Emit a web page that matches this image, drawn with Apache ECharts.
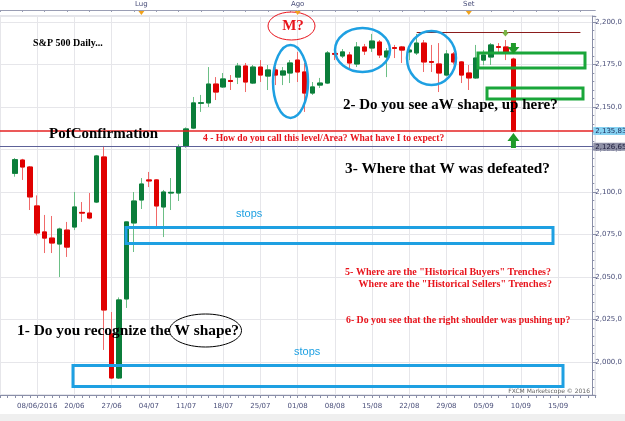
<!DOCTYPE html>
<html><head><meta charset="utf-8">
<script src="https://cdn.jsdelivr.net/npm/echarts@6/dist/echarts.min.js"></script>
<style>html,body{margin:0;padding:0;background:#fff}#c{width:625px;height:421px}</style>
</head><body><div id="c"></div>
<script>
const categories = [
'06/06','07/06','08/06','09/06','10/06',
'13/06','14/06','15/06','16/06','17/06',
'20/06','21/06','22/06','23/06','24/06',
'27/06','28/06','29/06','30/06','01/07',
'04/07','05/07','06/07','07/07','08/07',
'11/07','12/07','13/07','14/07','15/07',
'18/07','19/07','20/07','21/07','22/07',
'25/07','26/07','27/07','28/07','29/07',
'01/08','02/08','03/08','04/08','05/08',
'08/08','09/08','10/08','11/08','12/08',
'15/08','16/08','17/08','18/08','19/08',
'22/08','23/08','24/08','25/08','26/08',
'29/08','30/08','31/08','01/09','02/09',
'05/09','06/09','07/09','08/09','09/09',
'12/09','13/09','14/09','15/09','16/09',
'19/09','20/09','21/09','22/09','23/09',
'26/09'];
const firstDate = '08/06';
const opens  = [2111,2118.8,2114.7, 2091.8,2076.5,2072.9,2069.4,2077.6, 2079.4,2088.0,2087.6,2094.1,2120.6, 2016.5,1990.6,2037.1,2081.8,2095.3, 2107.1,2107.1,2091.2,2099.4,2099.4, 2127.1,2137.6,2152.2,2152.4,2163.5, 2161.8,2165.6,2167.6,2174.1,2164.1, 2173.5,2168.2,2171.8,2168.8,2170.0, 2177.6,2170.6,2158.2,2162.9,2164.1, 2181.5,2180.0,2180.6,2175.3,2185.3, 2184.7,2188.2,2179.4,2184.9,2185.3, 2182.4,2181.8,2187.6,2176.7,2175.3, 2168.8,2181.2,2176.5,2170.0,2167.1, 2177.6,2179.4,2185.5,2185.3,2178.2];
const closes = [2119,2114.7,2097.1, 2075.9,2072.9,2070.0,2078.2,2067.6, 2091.2,2087.6,2084.7,2121.2,2030.6, 1990.6,2036.5,2082.4,2094.7,2104.7, 2106.5,2091.8,2100.0,2099.8,2126.5, 2137.1,2152.4,2152.5,2163.5,2158.8, 2166.5,2165.0,2174.1,2164.7,2173.5, 2168.8,2171.8,2168.8,2171.2,2175.9, 2170.6,2158.2,2161.8,2164.1,2181.8, 2181.0,2182.4,2175.9,2185.3,2182.9, 2188.8,2180.6,2182.9,2184.5,2183.5, 2183.5,2187.6,2176.5,2176.3,2170.0, 2181.2,2176.5,2168.8,2167.1,2178.8, 2180.6,2186.5,2185.1,2181.8,2135.83];
const lows   = [2109,2107.1,2089.4, 2074.5,2064.1,2064.1,2050.0,2061.8, 2077.6,2082.4,2084.0,2093.5,2007.1, 1990.0,1990.0,2031.8,2064.7,2090.0, 2102.9,2079.4,2073.5,2089.4,2094.7, 2126.0,2137.0,2147.1,2150.0,2154.1, 2161.2,2160.0,2163.5,2158.8,2163.5, 2164.7,2160.0,2162.9,2162.9,2164.1, 2164.7,2147.1,2157.1,2161.2,2163.5, 2177.6,2178.8,2171.8,2173.5,2180.6, 2182.4,2178.8,2167.6,2178.8,2175.9, 2177.6,2180.6,2170.6,2170.6,2158.8, 2168.0,2175.0,2164.1,2160.0,2166.5, 2174.7,2174.7,2181.8,2177.6,2135.83];
const highs  = [2120,2119.5,2115.3, 2098.0,2086.5,2085.9,2079.0,2082.4, 2100.0,2094.1,2099.4,2121.8,2127.1, 2029.4,2038.0,2082.6,2100.0,2108.2, 2111.8,2107.5,2101.2,2108.2,2128.0, 2138.0,2155.9,2157.1,2173.5,2167.6, 2170.0,2168.8,2175.9,2175.9,2174.7, 2177.6,2174.7,2173.5,2173.5,2177.6, 2182.4,2175.9,2164.7,2167.1,2182.9, 2184.7,2184.1,2182.4,2188.2,2187.1, 2193.0,2189.4,2184.7,2186.5,2185.9, 2185.0,2193.0,2189.4,2186.5,2187.6, 2183.5,2182.4,2177.0,2174.7,2186.5, 2183.5,2187.6,2187.6,2189.4,2179.0];
const xTickLabels = ['08/06/2016','20/06','27/06','04/07','11/07','18/07','25/07','01/08','08/08','15/08','22/08','29/08','05/09','10/09','15/09'];
const monthLabels = ['Lug','Ago','Set'];
const lastClose = 2135.83;
const prevLevel = 2126.65;
const resistance = 2194;
const resistanceFrom = '23/08', resistanceTo = '22/09';
const yMin = 1980.59, yMax = 2203.53;

const start = categories.indexOf(firstDate);
const wickData = categories.map((d, i) => {
  const k = i - start;
  if (k < 0 || k >= opens.length) return '-';
  return [opens[k], closes[k], lows[k], highs[k]];
});
const bodyData = categories.map((d, i) => {
  const k = i - start;
  if (k < 0 || k >= opens.length) return '-';
  return [opens[k], closes[k], Math.min(opens[k], closes[k]), Math.max(opens[k], closes[k])];
});
function fmt(v, d) {
  const s = v.toFixed(d); const p = s.split('.');
  const ip = p[0];
  return ip.slice(0, ip.length - 3) + ',' + ip.slice(-3) + ',' + p[1];
}
const isMonday = i => i % 5 === 0;
const serif = '"Liberation Serif", "Times New Roman", serif';
const axisTxt = '#4a4f7a';

const chart = echarts.init(document.getElementById('c'), null, {renderer: 'canvas'});
const option = {
  backgroundColor: '#fff',
  animation: false,
  grid: {left: -16.5, right: 25.5, top: 16, bottom: 26, show: true, borderColor: '#c9cbd6', borderWidth: 1},
  xAxis: [{
    type: 'category', data: categories, boundaryGap: false, position: 'bottom',
    axisLine: {lineStyle: {color: '#8a8fa8'}},
    axisTick: {interval: 0, length: 3, lineStyle: {color: '#8a8fa8'}},
    axisLabel: {
      interval: (i) => isMonday(i) && i >= 5 && i <= 75,
      formatter: (v, i) => { const idx = categories.indexOf(v); return xTickLabels[idx / 5 - 1] || ''; },
      fontSize: 7, color: axisTxt, margin: 8, fontFamily: 'DejaVu Sans'
    },
    splitLine: {show: true, interval: (i) => isMonday(i), lineStyle: {color: '#e6e6ea'}}
  }, {
    type: 'category', data: categories, boundaryGap: false, position: 'top', offset: 6,
    axisLine: {lineStyle: {color: '#9a9eb4'}},
    axisTick: {interval: 2, length: 2, inside: true, lineStyle: {color: '#9a9eb4'}},
    axisLabel: {
      interval: (i, v) => v.startsWith('01/'),
      formatter: (v) => { const m = ['01/07', '01/08', '01/09'].indexOf(v); return m >= 0 ? monthLabels[m] : ''; },
      fontSize: 7, color: axisTxt, margin: 2, fontFamily: 'DejaVu Sans'
    },
    splitLine: {show: false}
  }],
  yAxis: {
    type: 'value', position: 'right', offset: -3, min: yMin, max: yMax, scale: true,
    minInterval: 25, maxInterval: 25, splitNumber: 9,
    axisLine: {show: true, lineStyle: {color: '#8a8fa8'}},
    axisTick: {show: true, length: 4, lineStyle: {color: '#8a8fa8'}},
    minorTick: {show: true, splitNumber: 5, length: 2, lineStyle: {color: '#8a8fa8'}},
    axisLabel: {showMinLabel: false, showMaxLabel: false, fontSize: 7, color: axisTxt, margin: 3, formatter: (v) => fmt(v, 1), fontFamily: 'DejaVu Sans'},
    splitLine: {show: true, lineStyle: {color: '#e6e6ea'}}
  },
  series: [{
    name: 'wicks', type: 'candlestick', data: wickData, barWidth: 5, z: 2,
    itemStyle: {color: 'transparent', color0: 'transparent', borderColor: '#6cbf86', borderColor0: '#f06a6a', borderWidth: 1},
    markLine: {
      symbol: 'none', silent: true, animation: false,
      label: {position: 'end', fontSize: 7, padding: [1, 2, 0, 2], distance: -2, fontFamily: 'DejaVu Sans'},
      data: [
        {yAxis: lastClose, lineStyle: {color: '#e52222', width: 1.5, type: 'solid'}, label: {formatter: fmt(lastClose, 2), backgroundColor: '#86d2f2', color: '#1a2a5a'}},
        {yAxis: prevLevel, lineStyle: {color: '#5d6198', width: 1, type: 'solid'}, label: {formatter: fmt(prevLevel, 2), backgroundColor: '#8e90a6', color: '#1a1a3a'}},
        [{coord: [resistanceFrom, resistance], lineStyle: {color: '#8b1c1c', width: 1, type: 'solid'}, label: {show: false}}, {coord: [resistanceTo, resistance]}]
      ]
    }
  }, {
    name: 'bodies', type: 'candlestick', data: bodyData, barWidth: 5, z: 3,
    itemStyle: {color: '#0b7d3a', color0: '#e00000', borderColor: '#0b7d3a', borderColor0: '#e00000', borderWidth: 1}
  }]
};
chart.setOption(option);

// annotations
const blue = '#1ea0e2', green = '#1aa63a', red = '#e8141c';
const T = (text, x, y, font, fill, align) => ({type: 'text', x, y, z: 100, style: {text, font, fill, textAlign: align || 'left', textVerticalAlign: 'middle'}});
const px = (d, v) => chart.convertToPixel({xAxisIndex: 0, yAxisIndex: 0}, [d, v]);
const lastDate = categories[start + opens.length - 1];
const ax = px(lastDate, lastClose)[0];
const monthX = ['01/07', '01/08', '01/09'].map(d => px(d, yMax)[0]);
const els = [
  {type: 'rect', z: 100, shape: {x: 0, y: 414, width: 625, height: 7}, style: {fill: '#efefef'}},
  T('S&P 500 Daily...', 33, 43, 'bold 10px ' + serif, '#000'),
  {type: 'ellipse', z: 100, shape: {cx: 291.5, cy: 26, rx: 23.5, ry: 14}, style: {fill: 'none', stroke: red, lineWidth: 1}},
  T('M?', 293, 26, 'bold 15px ' + serif, red, 'center'),
  {type: 'ellipse', z: 100, shape: {cx: 290.5, cy: 81.5, rx: 17.5, ry: 36.5}, style: {fill: 'none', stroke: blue, lineWidth: 2.5}},
  {type: 'ellipse', z: 100, shape: {cx: 362.5, cy: 50, rx: 27.5, ry: 22}, style: {fill: 'none', stroke: blue, lineWidth: 2.5}},
  {type: 'ellipse', z: 100, shape: {cx: 431.5, cy: 58, rx: 24.5, ry: 27}, style: {fill: 'none', stroke: blue, lineWidth: 2.5}},
  {type: 'rect', z: 100, shape: {x: 478, y: 53, width: 107, height: 15}, style: {fill: 'none', stroke: green, lineWidth: 3}},
  {type: 'rect', z: 100, shape: {x: 487, y: 88, width: 96, height: 11}, style: {fill: 'none', stroke: green, lineWidth: 3}},
  T('2- Do you see aW shape, up here?', 343, 105, 'bold 15px ' + serif, '#000'),
  T('PofConfirmation', 49, 134, 'bold 15px ' + serif, '#000'),
  T('4 - How do you call this level/Area? What have I to expect?', 203, 138.5, 'bold 9.6px ' + serif, red),
  T('3- Where that W was defeated?', 345, 169, 'bold 15.3px ' + serif, '#000'),
  T('stops', 236, 213.5, '11px "Liberation Sans", Arial, sans-serif', blue),
  {type: 'rect', z: 100, shape: {x: 126, y: 227.5, width: 427, height: 16}, style: {fill: 'none', stroke: blue, lineWidth: 3}},
  T('5- Where are the "Historical Buyers" Trenches?', 551, 272.5, 'bold 10px ' + serif, red, 'right'),
  T('Where are the "Historical Sellers" Trenches?', 552, 284, 'bold 10px ' + serif, red, 'right'),
  T('6- Do you see that the right shoulder was pushing up?', 346, 320, 'bold 9.8px ' + serif, red),
  T('1- Do you recognize the W shape?', 17, 331, 'bold 15.4px ' + serif, '#000'),
  {type: 'ellipse', z: 100, shape: {cx: 205.5, cy: 330.5, rx: 36, ry: 16.5}, style: {fill: 'none', stroke: '#000', lineWidth: 1}},
  T('stops', 294, 352, '11px "Liberation Sans", Arial, sans-serif', blue),
  {type: 'rect', z: 100, shape: {x: 73, y: 365.5, width: 490, height: 21}, style: {fill: 'none', stroke: blue, lineWidth: 3}},
  T('FXCM Marketscope \u00a9 2016', 590, 391, '6px "DejaVu Sans", sans-serif', '#666', 'right'),
  {type: 'polygon', z: 100, shape: {points: [[ax - 6, 141], [ax, 133], [ax + 6, 141], [ax + 2.5, 141], [ax + 2.5, 148], [ax - 2.5, 148], [ax - 2.5, 141]]}, style: {fill: '#1f9a2a'}},
  {type: 'polygon', z: 100, shape: {points: [[ax - 2.5, 43], [ax + 2.5, 43], [ax + 2.5, 47], [ax + 6, 47], [ax, 54], [ax - 6, 47], [ax - 2.5, 47]]}, style: {fill: '#1f9a2a'}},
  {type: 'polygon', z: 100, shape: {points: [[ax - 9.5, 30], [ax - 6.5, 30], [ax - 6.5, 32.5], [ax - 4.5, 32.5], [ax - 8, 36.5], [ax - 11.5, 32.5], [ax - 9.5, 32.5]]}, style: {fill: '#7ab648'}}
];
monthX.forEach(x => els.push({type: 'polygon', z: 100, shape: {points: [[x - 3, 11], [x + 3, 11], [x, 15]]}, style: {fill: '#f2a31b'}}));
chart.setOption({graphic: {elements: els}});
</script></body></html>
